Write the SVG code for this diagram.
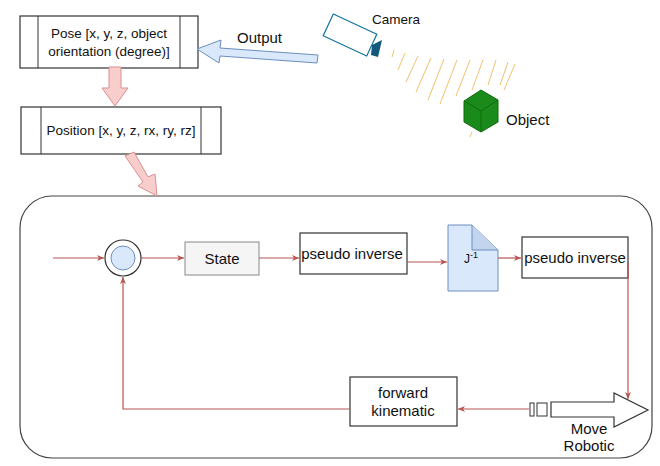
<svg xmlns="http://www.w3.org/2000/svg" width="660" height="466" viewBox="0 0 660 466">
<defs>
<marker id="a" markerWidth="8" markerHeight="8" refX="7" refY="4" orient="auto" markerUnits="userSpaceOnUse"><path d="M0,1 L7,4 L0,7 L2,4 Z" fill="#b85450"/></marker>
</defs>
<style>
text{font-family:"Liberation Sans",Arial,sans-serif;font-size:13.5px;fill:#111}
.b{fill:#fff;stroke:#333;stroke-width:1.2}
.c{fill:none;stroke:#b85450;stroke-width:1.2}
.p{fill:#f8cecc;stroke:#d99090;stroke-width:1}
.r{stroke:#f0c070;stroke-width:1}
.l{font-size:15px}
</style>
<rect x="0" y="0" width="660" height="466" fill="#fff"/>
<rect x="20" y="196" width="632" height="262" rx="32" fill="none" stroke="#444" stroke-width="1.2"/>
<g id="pose"><rect class="b" x="20" y="16" width="178" height="52"/><line x1="38" y1="16" x2="38" y2="68" stroke="#333"/><line x1="180" y1="16" x2="180" y2="68" stroke="#333"/><text x="109" y="38" text-anchor="middle">Pose [x, y, z, object</text><text x="109" y="56" text-anchor="middle">orientation (degree)]</text></g>
<g id="position"><rect class="b" x="21" y="107" width="200" height="47"/><line x1="41" y1="107" x2="41" y2="154" stroke="#333"/><line x1="201" y1="107" x2="201" y2="154" stroke="#333"/><text x="121" y="135" text-anchor="middle">Position [x, y, z, rx, ry, rz]</text></g>
<g id="camera"><rect x="326" y="23" width="48" height="24" transform="rotate(25 350 35)" fill="#fff" stroke="#10739e" stroke-width="1.2"/><path d="M372,45 L382,40 L378,57 L371,55 Z" fill="#10597a"/><text x="372" y="24">Camera</text></g>
<g id="rays">
<line class="r" x1="394" y1="50" x2="392" y2="57"/><line class="r" x1="405" y1="53" x2="398" y2="70"/><line class="r" x1="418" y1="56" x2="406" y2="82"/><line class="r" x1="431" y1="58" x2="416" y2="92"/><line class="r" x1="444" y1="59" x2="428" y2="100"/><line class="r" x1="457" y1="60" x2="440" y2="104"/><line class="r" x1="470" y1="60" x2="456" y2="96"/><line class="r" x1="483" y1="60" x2="472" y2="90"/><line class="r" x1="496" y1="60" x2="488" y2="85"/><line class="r" x1="508" y1="62" x2="500" y2="85"/><line class="r" x1="515" y1="64" x2="504" y2="90"/>
<line class="r" x1="472" y1="132" x2="470" y2="137"/>
</g>
<g id="object"><path d="M464,101 L481,90 L498,100 L498,122 L481,132 L464,122 Z" fill="#1a8a1a" stroke="#0f6a0f"/><path d="M464,101 L481,111 L498,100 M481,111 L481,132" fill="none" stroke="#0f6a0f"/><text x="506" y="125" class="l">Object</text></g>
<g id="output"><path d="M318,55 L220,48 L221,40 L197,49 L219,63 L220,56 L317,63 Z" fill="#dae8fc" stroke="#6c8ebf"/><text x="237" y="43" class="l">Output</text></g>
<g id="pink"><path d="M109,67 L121,67 L121,88 L128,88 L115,106 L102,88 L109,88 Z" class="p"/><path d="M125,156 L134,152 L148,177 L155,174 L157,196 L138,186 L143,182 Z" class="p"/></g>
<g id="sum"><circle cx="123" cy="258" r="18" fill="#fff" stroke="#333" stroke-width="1.2"/><circle cx="123" cy="258" r="12" fill="#dae8fc" stroke="#6c8ebf"/></g>
<g id="state"><rect x="185" y="242" width="74" height="33" fill="#f5f5f5" stroke="#888"/><text x="222" y="264" text-anchor="middle" class="l">State</text></g>
<g id="pinv1"><rect class="b" x="300" y="233" width="107" height="41"/><text x="352" y="259" text-anchor="middle" class="l">pseudo inverse</text></g>
<g id="jinv"><path d="M448,225 L472,225 L498,250 L498,291 L448,291 Z" fill="#dae8fc" stroke="#6c8ebf"/><path d="M472,225 L472,250 L498,250" fill="#c2d4ee" stroke="#6c8ebf"/><text x="464" y="263" style="font-size:12px">J<tspan dy="-5" style="font-size:9px">-1</tspan></text></g>
<g id="pinv2"><rect class="b" x="522" y="237" width="106" height="41"/><text x="575" y="263" text-anchor="middle" class="l">pseudo inverse</text></g>
<g id="fk"><rect class="b" x="350" y="377" width="107" height="49"/><text x="403" y="398" text-anchor="middle" class="l">forward</text><text x="403" y="416" text-anchor="middle" class="l">kinematic</text></g>
<g id="move"><rect x="530" y="403" width="4" height="13" fill="#fff" stroke="#333"/><rect x="537" y="403" width="10" height="13" fill="#fff" stroke="#333"/><path d="M551,402 L614,402 L614,393 L648,410 L614,427 L614,417 L551,417 Z" fill="#fff" stroke="#333" stroke-width="1.2"/><text x="589" y="434" text-anchor="middle" class="l">Move</text><text x="589" y="451" text-anchor="middle" class="l">Robotic</text></g>
<g id="connectors">
<line class="c" x1="53" y1="258" x2="104" y2="258" marker-end="url(#a)"/>
<line class="c" x1="141" y1="258" x2="184" y2="258" marker-end="url(#a)"/>
<line class="c" x1="259" y1="258" x2="299" y2="258" marker-end="url(#a)"/>
<line class="c" x1="407" y1="262" x2="447" y2="262" marker-end="url(#a)"/>
<line class="c" x1="498" y1="258" x2="521" y2="258" marker-end="url(#a)"/>
<polyline class="c" points="628,262 628,262 628,399" marker-end="url(#a)"/>
<line class="c" x1="529" y1="409" x2="458" y2="409" marker-end="url(#a)"/>
<polyline class="c" points="350,409 123,409 123,277" marker-end="url(#a)"/>
</g>
</svg>
